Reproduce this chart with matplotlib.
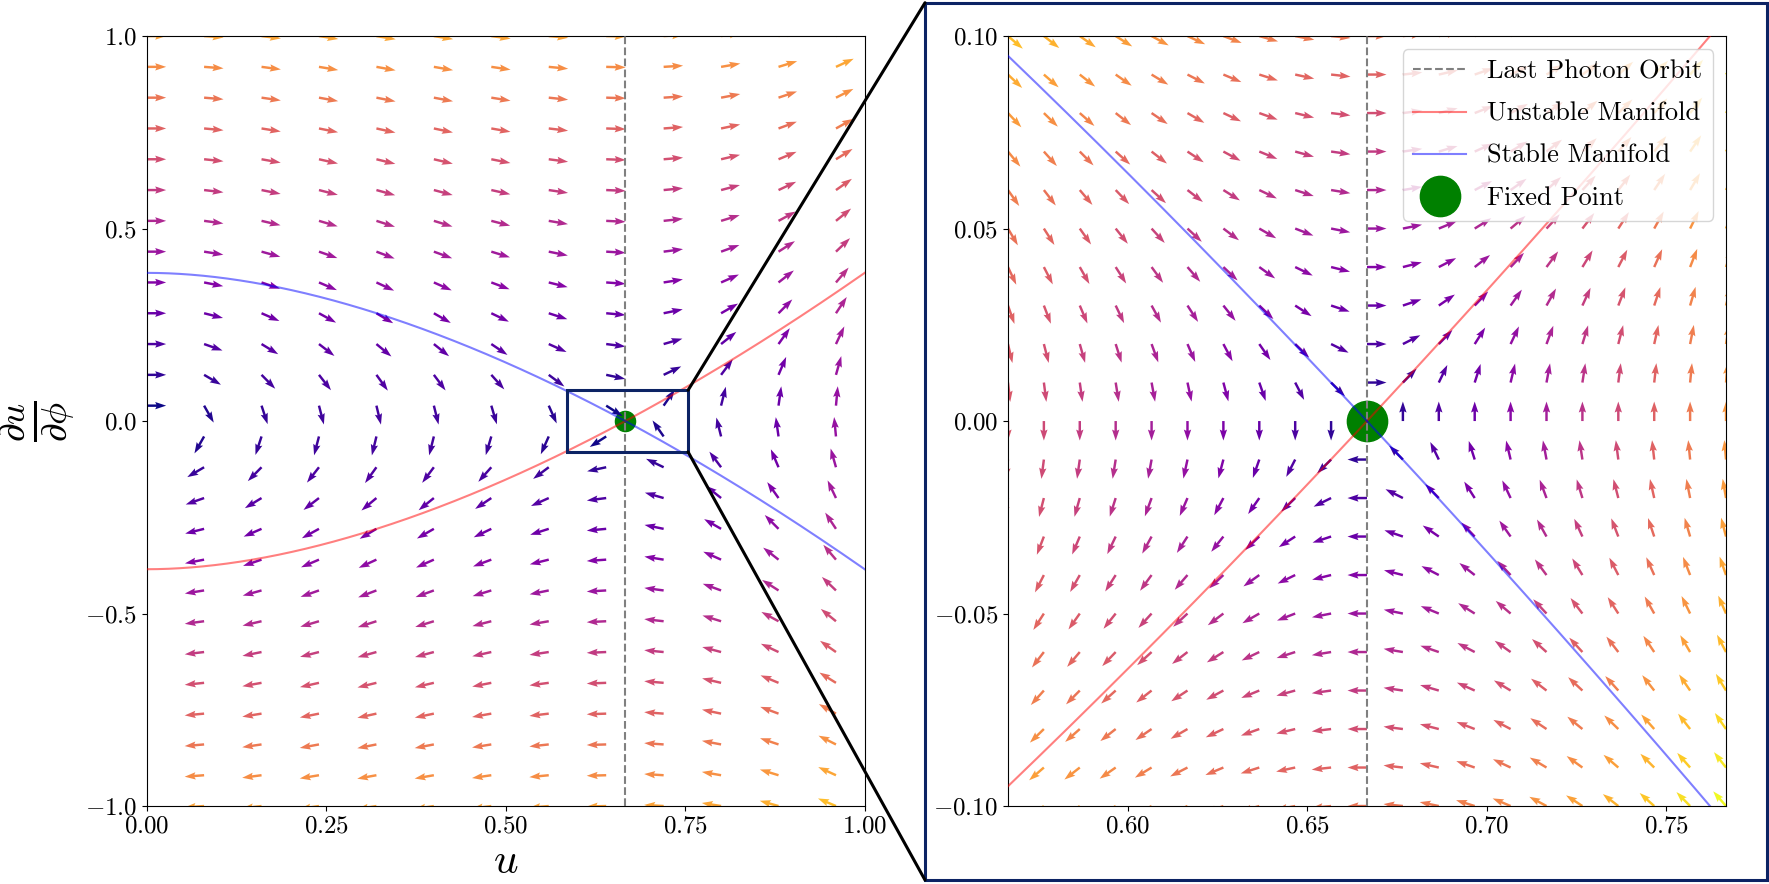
import numpy as np
import matplotlib
matplotlib.use('Agg')
import matplotlib.pyplot as plt
from matplotlib.patches import Rectangle, ConnectionPatch
from matplotlib.lines import Line2D

plt.rcParams['font.family'] = 'serif'
plt.rcParams['font.serif'] = ['cmr10', 'DejaVu Serif']
plt.rcParams['mathtext.fontset'] = 'cm'
plt.rcParams['axes.formatter.use_mathtext'] = True

# photon orbit  u'' = -u + 3M u^2  with M = 1/2
M = 0.5
u_fixed = 1 / (3 * M)          # last photon orbit, u = 2/3

# left panel grid / ticks (grid runs a bit past u = 1, those arrows are clipped)
u_left = np.linspace(0, 1.12, 15)
v_left = np.linspace(-1, 1, 26)
xticks_left = [0.0, 0.25, 0.5, 0.75, 1.0]
yticks_left = [-1.0, -0.5, 0.0, 0.5, 1.0]

# zoomed panel grid / ticks
u_right = np.linspace(u_fixed - 0.1, u_fixed + 0.1, 21)
v_right = np.linspace(-0.1, 0.1, 21)
xticks_right = [0.60, 0.65, 0.70, 0.75]
yticks_right = [-0.10, -0.05, 0.0, 0.05, 0.10]

# zoom box drawn on the left panel
box_u = [0.586, 0.754]
box_v = [-0.08, 0.08]

u_curve = np.linspace(0, 1, 2000)


def field(u, v):
    return v, -u + 3 * M * u**2


def draw_panel(ax, us, vs, ms):
    U, V = np.meshgrid(us, vs)
    du, dv = field(U, V)
    mag = np.hypot(du, dv)
    n = np.where(mag == 0, 1, mag)
    ax.quiver(U, V, du / n, dv / n, mag, cmap='plasma', pivot='tail',
              scale=1 / 0.195, scale_units='inches', width=0.0034,
              headwidth=3, headlength=4.5, headaxislength=4, zorder=2)
    ax.plot([u_fixed], [0], 'o', color='green', ms=ms, zorder=1)
    ax.axvline(u_fixed, color='gray', ls='--', lw=1.5, zorder=3)
    # separatrix: u'^2 = (u - 2/3)^2 (u + 1/3)
    branch = (u_curve - u_fixed) * np.sqrt(u_curve + 1 / 3)
    ax.plot(u_curve, branch, color='red', alpha=0.5, lw=1.5, zorder=3)
    ax.plot(u_curve, -branch, color='blue', alpha=0.5, lw=1.5, zorder=3)
    ax.tick_params(labelsize=18)


fig = plt.figure(figsize=(17.69, 8.84), dpi=100)
ax1 = fig.add_axes([0.0829, 0.0882, 0.4059, 0.8710])
ax2 = fig.add_axes([0.5698, 0.0882, 0.4059, 0.8710])

draw_panel(ax1, u_left, v_left, 14.5)
ax1.set_xlim(0, 1)
ax1.set_ylim(-1, 1)
ax1.set_xticks(xticks_left)
ax1.set_yticks(yticks_left)
ax1.set_xlabel(r'$u$', fontsize=31)
ax1.set_ylabel(r'$\frac{\partial u}{\partial \phi}$', fontsize=38, labelpad=6)

ax1.add_patch(Rectangle((box_u[0], box_v[0]), box_u[1] - box_u[0], box_v[1] - box_v[0],
                        fill=False, edgecolor='#0c2364', lw=2.2, zorder=4))

draw_panel(ax2, u_right, v_right, 29)
ax2.set_xlim(u_fixed - 0.1, u_fixed + 0.1)
ax2.set_ylim(-0.1, 0.1)
ax2.set_xticks(xticks_right)
ax2.set_yticks(yticks_right)

handles = [
    Line2D([], [], color='gray', ls='--', lw=1.5, label='Last Photon Orbit'),
    Line2D([], [], color='red', alpha=0.5, lw=1.5, label='Unstable Manifold'),
    Line2D([], [], color='blue', alpha=0.5, lw=1.5, label='Stable Manifold'),
    Line2D([], [], marker='o', ls='', color='green', ms=29, label='Fixed Point'),
]
ax2.legend(handles=handles, loc='upper right', fontsize=19, labelspacing=0.7)

# frame round the zoomed panel and the two connector lines
fig.add_artist(Rectangle((0.5229, 0.0045), 0.476, 0.9924, transform=fig.transFigure,
                         fill=False, edgecolor='#0c2364', lw=2.2))
for corner_v, fig_y in [(box_v[1], 0.9969), (box_v[0], 0.0045)]:
    con = ConnectionPatch(xyA=(box_u[1], corner_v), coordsA=ax1.transData,
                          xyB=(0.5229, fig_y), coordsB=fig.transFigure,
                          color='black', lw=2.2)
    fig.add_artist(con)

fig.savefig('out.png', dpi=100)
